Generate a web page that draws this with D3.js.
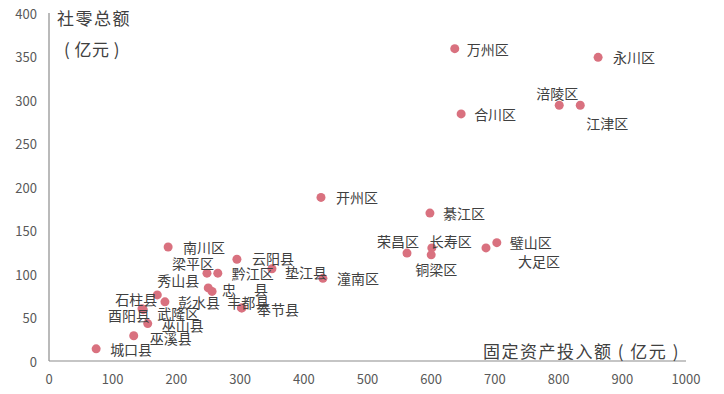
<!DOCTYPE html>
<html>
<head>
<meta charset="utf-8">
<script src="https://cdn.jsdelivr.net/npm/d3@7"></script>
<style>
  body { margin: 0; background: #fff; }
  svg text { font-family: "Noto Sans CJK SC", "Noto Sans", sans-serif; }
</style>
</head>
<body>
<div id="chart"></div>
<script>
// Data: 区县, 固定资产投入额 (亿元), 社零总额 (亿元)
let names = [
  `万州区`, `永川区`, `合川区`, `涪陵区`, `江津区`, `开州区`, `綦江区`, `荣昌区`,
  `长寿区`, `铜梁区`, `璧山区`, `大足区`, `潼南区`, `垫江县`, `云阳县`, `南川区`,
  `梁平区`, `黔江区`, `秀山县`, `忠县`, `丰都县`, `奉节县`, `彭水县`, `石柱县`,
  `酉阳县`, `武隆区`, `巫山县`, `巫溪县`, `城口县`,
]
let investment = [
  637, 862, 647, 801, 834, 427, 598, 562,
  601, 600, 703, 686, 430, 350, 295, 187,
  248, 265, 250, 256, 302, 303, 182, 170,
  146, 148, 155, 133, 74,
]
let retail = [
  359, 349, 284, 294, 294, 188, 170, 124,
  130, 122, 136, 130, 95, 106, 117, 131,
  101, 101, 84, 80, 61, 61, 68, 76,
  60, 59, 43, 29, 14,
]
let xTicks = [0, 100, 200, 300, 400, 500, 600, 700, 800, 900, 1000]
let yTicks = [0, 50, 100, 150, 200, 250, 300, 350, 400]

// Label nudges, as placed by hand in the original chart [dx, dy]
let labelNudge = {
  万州区: [12, 0], 永川区: [15, 0], 合川区: [13, 0], 涪陵区: [-23, -12],
  江津区: [6, 18], 开州区: [15, 0], 綦江区: [13, 0], 荣昌区: [-30, -12],
  长寿区: [-2, -7], 铜梁区: [-16, 14], 璧山区: [13, -1], 大足区: [32, 13],
  潼南区: [14, 0], 垫江县: [13, 3], 云阳县: [15, -1], 南川区: [15, 0],
  梁平区: [-35, -10], 黔江区: [14, 0], 秀山县: [-51, -8], 忠县: [10, -2],
  丰都县: [-14, -6], 奉节县: [15, 1], 彭水县: [13, 0], 石柱县: [-42, 4],
  酉阳县: [-34, 6], 武隆区: [14, 3], 巫山县: [14, 1], 巫溪县: [16, 2],
  城口县: [14, 0],
}

let width = 724
let height = 394
let dotColor = `#d9717f`
let textColor = `#404040`
let axisColor = `#8c8c8c`

let svg = d3.select(`#chart`)
  .append(`svg`)
  .attr(`width`, width)
  .attr(`height`, height)

let x = d3.scaleLinear().domain([0, 1000]).range([49, 686])
let y = d3.scaleLinear().domain([0, 400]).range([361, 13])

// Axes lines

svg.append(`line`)
  .attr(`x1`, x(0)).attr(`x2`, x(0))
  .attr(`y1`, y(400)).attr(`y2`, y(0))
  .attr(`stroke`, axisColor)
  .attr(`stroke-width`, 1.2)

svg.append(`line`)
  .attr(`x1`, x(0)).attr(`x2`, x(1000))
  .attr(`y1`, y(0)).attr(`y2`, y(0))
  .attr(`stroke`, axisColor)
  .attr(`stroke-width`, 1.2)

// Tick labels

svg.append(`g`)
  .selectAll(`text`)
  .data(yTicks)
  .join(`text`)
  .attr(`x`, x(0) - 12)
  .attr(`y`, d => y(d))
  .attr(`text-anchor`, `end`)
  .attr(`dominant-baseline`, `central`)
  .attr(`font-size`, 13)
  .attr(`fill`, `#595959`)
  .text(d => d)

svg.append(`g`)
  .selectAll(`text`)
  .data(xTicks)
  .join(`text`)
  .attr(`x`, d => x(d))
  .attr(`y`, y(0) + 17)
  .attr(`text-anchor`, `middle`)
  .attr(`dominant-baseline`, `central`)
  .attr(`font-size`, 13)
  .attr(`fill`, `#595959`)
  .text(d => d)

// Axis titles

svg.append(`text`)
  .attr(`x`, x(0) + 8)
  .attr(`y`, 17)
  .attr(`dominant-baseline`, `central`)
  .attr(`font-size`, 17)
  .attr(`letter-spacing`, 1.5)
  .attr(`fill`, textColor)
  .text(`社零总额`)

svg.append(`text`)
  .attr(`x`, x(0) + 15)
  .attr(`y`, 48)
  .attr(`dominant-baseline`, `central`)
  .attr(`font-size`, 17)
  .attr(`letter-spacing`, 0.5)
  .attr(`fill`, textColor)
  .text(`( 亿元 )`)

svg.append(`text`)
  .attr(`x`, 483)
  .attr(`y`, 350)
  .attr(`dominant-baseline`, `central`)
  .attr(`font-size`, 17)
  .attr(`letter-spacing`, 1.5)
  .attr(`fill`, textColor)
  .text(`固定资产投入额 ( 亿元 )`)

// Points

let points = names.map((name, i) => ({ name, inv: investment[i], ret: retail[i] }))

svg.append(`g`)
  .selectAll(`circle`)
  .data(points)
  .join(`circle`)
  .attr(`cx`, d => x(d.inv))
  .attr(`cy`, d => y(d.ret))
  .attr(`r`, 4.5)
  .attr(`fill`, dotColor)

// Labels

svg.append(`g`)
  .selectAll(`text`)
  .data(points)
  .join(`text`)
  .attr(`x`, d => x(d.inv) + labelNudge[d.name][0])
  .attr(`y`, d => y(d.ret) + labelNudge[d.name][1])
  .attr(`dominant-baseline`, `central`)
  .attr(`font-size`, 14)
  .attr(`fill`, textColor)
  .attr(`letter-spacing`, d => d.name === `忠县` ? 18 : 0)
  .text(d => d.name)
</script>
</body>
</html>
